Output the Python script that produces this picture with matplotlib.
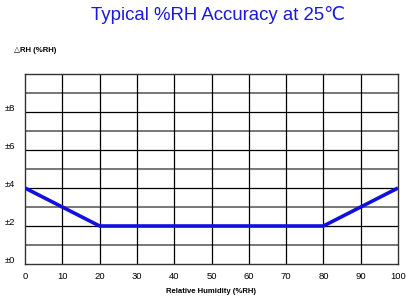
import numpy as np
import matplotlib.pyplot as plt

rh = [0, 20, 80, 100]
accuracy = [4, 2, 2, 4]
x_ticks = list(range(0, 101, 10))
y_ticks = [0, 2, 4, 6, 8]
y_labels = ['±0', '±2', '±4', '±6', '±8']

plt.rcParams['font.family'] = ['Liberation Sans', 'DejaVu Sans']

fig = plt.figure(figsize=(4.13, 3.08), dpi=100)
ax = fig.add_axes([25 / 413, 44 / 308, 373 / 413, 190 / 308])

# grid: black on even values, grey on odd ones
for v in range(1, 10):
    if v % 2:
        ax.axhline(v, color='#777777', lw=1.4, zorder=1)
    else:
        ax.axhline(v, color='black', lw=0.9, zorder=1)
for v in x_ticks[1:-1]:
    ax.axvline(v, color='black', lw=0.9, zorder=1)

ax.plot(rh, accuracy, color='#1010e0', lw=2.6, zorder=3, solid_capstyle='butt')

ax.set_xlim(0, 100)
ax.set_ylim(0, 10)
ax.set_xticks(x_ticks)
ax.set_xticklabels([str(t) for t in x_ticks], fontsize=6.8)
ax.set_yticks([])
for t, lab in zip(y_ticks, y_labels):
    ax.text(-0.055, t + 0.2, lab, transform=ax.get_yaxis_transform(),
            fontsize=6.8, ha='left', va='center')
ax.tick_params(axis='x', length=0, pad=6)
for s in ax.spines.values():
    s.set_color('#333333')
    s.set_linewidth(1.0)

ax.set_xlabel('Relative Humidity (%RH)', fontsize=5.6, fontweight='bold', labelpad=5)
fig.text(14 / 413, 1 - 50 / 308, '△RH (%RH)', fontsize=5.6, fontweight='bold',
         ha='left', va='center')
fig.text(218 / 413, 1 - 15 / 308, 'Typical %RH Accuracy at 25℃', fontsize=13.4,
         color='#1a1adc', ha='center', va='center')

fig.savefig('out.png', dpi=100)
